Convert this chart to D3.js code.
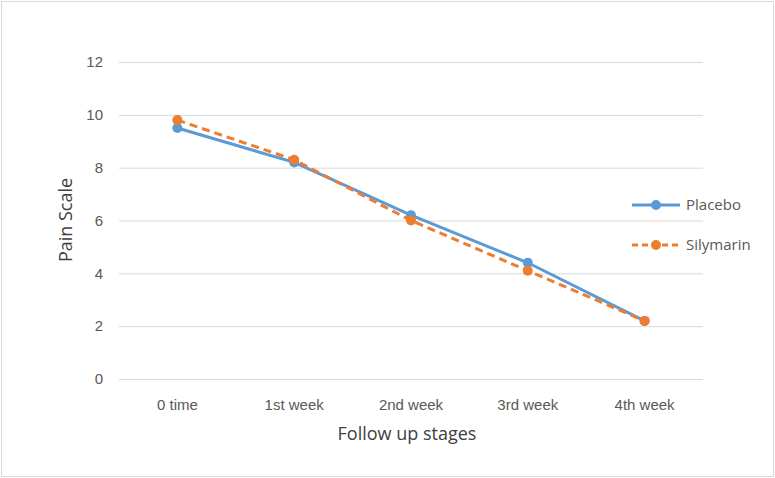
<!DOCTYPE html>
<html>
<head>
<meta charset="utf-8">
<script src="https://cdn.jsdelivr.net/npm/d3@7"></script>
<style>
  *{box-sizing: border-box;}
  body{ margin: 0; padding: 0; background: #fff; }
  svg{ display: block; font-family: "Liberation Sans Narrow", "Open Sans", sans-serif; }
</style>
</head>
<body>
<svg id="chart" width="775" height="478"></svg>
<script>
  // data
  let stages = ['0 time', '1st week', '2nd week', '3rd week', '4th week'];
  let placebo = [9.5, 8.2, 6.2, 4.4, 2.2];
  let silymarin = [9.8, 8.3, 6.0, 4.1, 2.2];
  let yTicks = [0, 2, 4, 6, 8, 10, 12];
  let seriesNames = ['Placebo', 'Silymarin'];

  let svg = d3.select('#chart');
  let W = 775, H = 478;
  let m = {left: 119, right: 72, top: 62, bottom: 99};

  // outer frame
  svg.append('rect')
    .attr('x', 1.5).attr('y', 1.5)
    .attr('width', W - 3).attr('height', H - 3)
    .attr('fill', '#fff')
    .attr('stroke', '#d9d9d9')
    .attr('stroke-width', 1);

  let x = d3.scaleBand().domain(stages).range([m.left, W - m.right]);
  let y = d3.scaleLinear().domain([0, 12]).range([H - m.bottom, m.top]);

  // gridlines
  let yAxis = d3.axisLeft(y).tickValues(yTicks).tickSize(-(W - m.right - m.left)).tickPadding(16);
  let gy = svg.append('g').attr('transform', `translate(${m.left},0)`).call(yAxis);
  gy.select('.domain').remove();
  gy.selectAll('.tick line').attr('stroke', '#d9d9d9').attr('stroke-width', 1);
  gy.selectAll('.tick text').attr('fill', '#595959').style('font-size', '15px');

  let xAxis = d3.axisBottom(x).tickSize(0).tickPadding(20);
  let gx = svg.append('g').attr('transform', `translate(0,${H - m.bottom})`).call(xAxis);
  gx.select('.domain').remove();
  gx.selectAll('.tick text').attr('fill', '#595959').style('font-size', '15px');

  let cx = d => x(d) + x.bandwidth() / 2;

  let series = [
    {name: seriesNames[0], vals: placebo, color: '#5B9BD5', dash: null},
    {name: seriesNames[1], vals: silymarin, color: '#ED7D31', dash: '8,5'}
  ];

  let line = d3.line().x((d, i) => cx(stages[i])).y(d => y(d));

  series.forEach(s => {
    svg.append('path')
      .datum(s.vals)
      .attr('d', line)
      .attr('fill', 'none')
      .attr('stroke', s.color)
      .attr('stroke-width', 3)
      .attr('stroke-dasharray', s.dash);
    svg.selectAll(null)
      .data(s.vals)
      .enter()
      .append('circle')
        .attr('cx', (d, i) => cx(stages[i]))
        .attr('cy', d => y(d))
        .attr('r', 5)
        .attr('fill', s.color);
  });

  // legend
  let lg = svg.append('g').attr('transform', 'translate(632,205)');
  series.forEach((s, i) => {
    let row = lg.append('g').attr('transform', `translate(0,${i * 40})`);
    row.append('line')
      .attr('x1', 0).attr('x2', 48)
      .attr('stroke', s.color).attr('stroke-width', 3)
      .attr('stroke-dasharray', s.dash ? '6,4' : null);
    row.append('circle').attr('cx', 24).attr('r', 5).attr('fill', s.color);
    row.append('text')
      .attr('x', 54).attr('dy', '0.35em')
      .attr('fill', '#595959')
      .style('font-size', '15px')
      .text(s.name);
  });

  // axis titles
  svg.append('text')
    .attr('x', (m.left + W - m.right) / 2 - 4)
    .attr('y', 440)
    .attr('text-anchor', 'middle')
    .attr('fill', '#404040')
    .style('font-size', '18px')
    .text('Follow up stages');

  svg.append('text')
    .attr('transform', 'translate(72,220) rotate(-90)')
    .attr('text-anchor', 'middle')
    .attr('fill', '#404040')
    .style('font-size', '18px')
    .text('Pain Scale');
</script>
</body>
</html>
